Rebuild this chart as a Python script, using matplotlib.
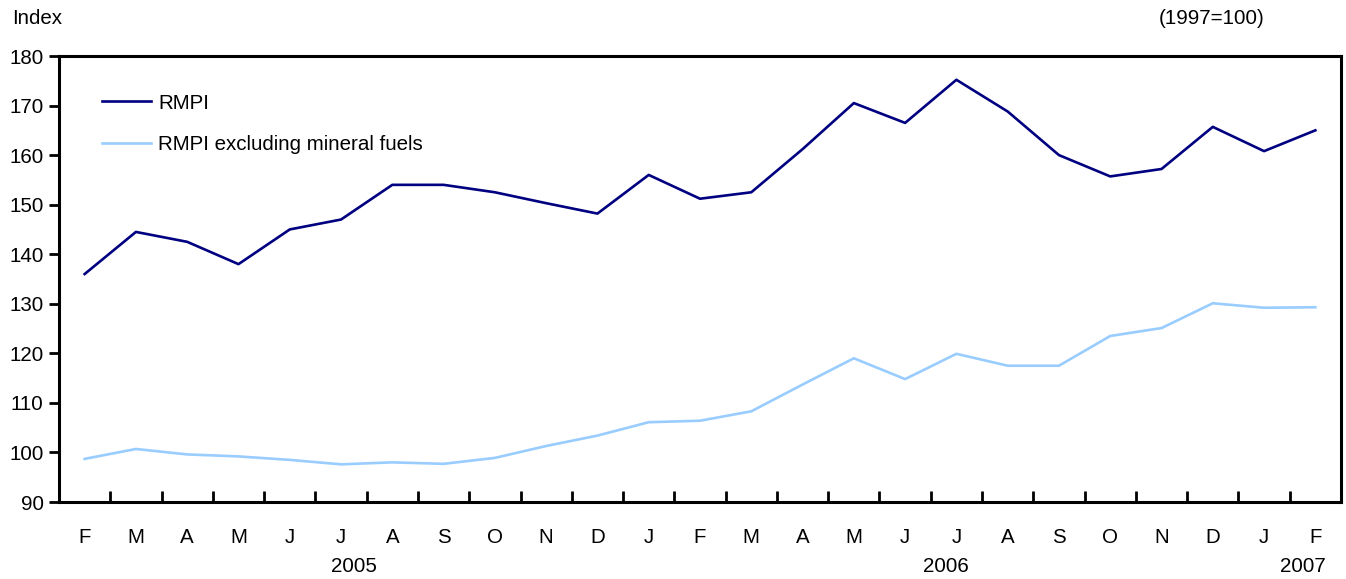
import numpy as np
import matplotlib
matplotlib.use("Agg")
import matplotlib.pyplot as plt

plt.rcParams['font.family'] = ['Liberation Sans', 'DejaVu Sans']

months = ["F", "M", "A", "M", "J", "J", "A", "S", "O", "N", "D",
          "J", "F", "M", "A", "M", "J", "J", "A", "S", "O", "N", "D",
          "J", "F"]
rmpi = [136.0, 144.5, 142.5, 138.0, 145.0, 147.0, 154.0, 154.0, 152.5, 150.3,
        148.2, 156.0, 151.2, 152.5, 161.2, 170.5, 166.5, 175.2, 168.8, 160.0,
        155.7, 157.2, 165.7, 160.8, 165.0]
rmpi_excl = [98.7, 100.7, 99.6, 99.2, 98.5, 97.6, 98.0, 97.7, 98.9, 101.3,
             103.4, 106.1, 106.4, 108.3, 113.7, 119.0, 114.8, 119.9, 117.5,
             117.5, 123.5, 125.1, 130.1, 129.2, 129.3]
years = ["2005", "2006", "2007"]
year_pos = [5.25, 16.8, 23.75]

fig = plt.figure(figsize=(13.46, 5.79), dpi=100)
ax = fig.add_axes([59 / 1346, 77 / 579, 1282 / 1346, 446 / 579])

x = np.arange(len(months))
ax.plot(x, rmpi, color="#000080", lw=1.9, label="RMPI")
ax.plot(x, rmpi_excl, color="#99ccff", lw=1.9, label="RMPI excluding mineral fuels")

ax.set_xlim(-0.5, len(months) - 0.5)
ax.set_ylim(90, 180)
ax.set_yticks(np.arange(90, 181, 10))
ax.set_xticks(np.arange(0.5, len(months) - 1, 1))
ax.set_xticklabels([])
ax.set_xticks(x, minor=True)
ax.set_xticklabels(months, minor=True)

for s in ax.spines.values():
    s.set_linewidth(2.2)
ax.tick_params(axis="y", direction="out", length=7, width=2, labelsize=14.8, pad=4)
ax.tick_params(axis="x", which="major", direction="in", length=8, width=2)
ax.tick_params(axis="x", which="minor", length=0, labelsize=14.8, pad=19)

for yr, p in zip(years, year_pos):
    ax.text(p, -0.145, yr, transform=ax.get_xaxis_transform(), ha="center",
            va="center", fontsize=14.8)

fig.text(12 / 1346, 1 - 18 / 579, "Index", fontsize=14.8, va="center", ha="left")
fig.text(1265 / 1346, 1 - 18 / 579, "(1997=100)", fontsize=14.8, va="center", ha="right")

ax.legend(loc="upper left", bbox_to_anchor=(0.019, 0.957), frameon=False,
          fontsize=14.8, handlelength=2.4, handletextpad=0.35, labelspacing=1.1)

fig.savefig("out.png", dpi=100)
